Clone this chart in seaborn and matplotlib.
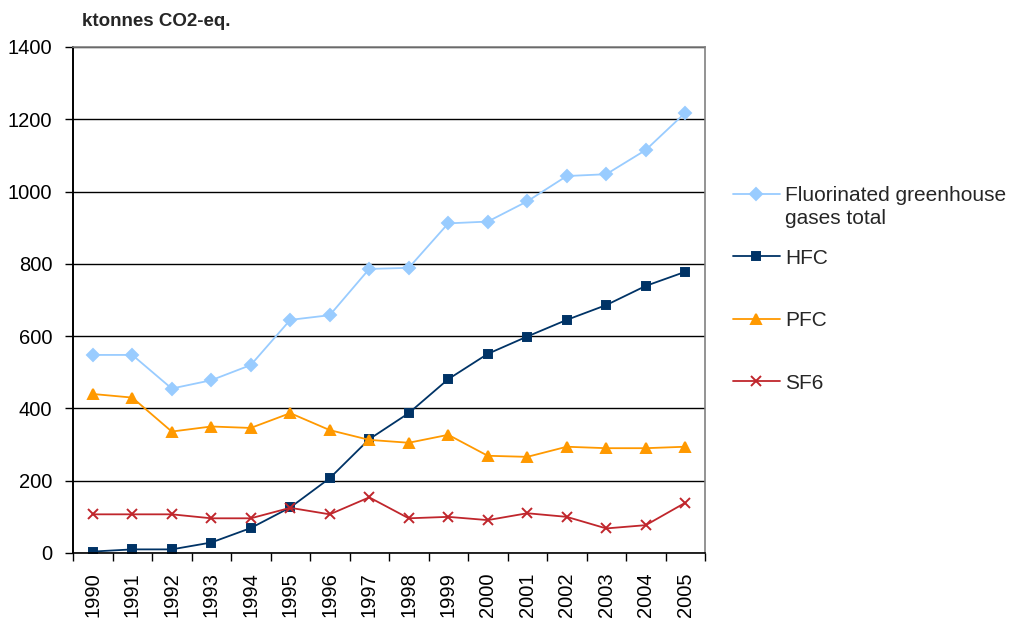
import seaborn as sns
import matplotlib.pyplot as plt
import numpy as np
import pandas as pd

# Data (ktonnes CO2-eq.)
years = list(range(1990, 2006))
total = [548, 548, 455, 478, 520, 645, 658, 786, 789, 912, 917, 973, 1043, 1048, 1115, 1218]
hfc = [4, 10, 10, 29, 69, 126, 207, 315, 387, 481, 551, 599, 645, 686, 739, 778]
pfc = [440, 430, 336, 350, 346, 387, 340, 313, 305, 327, 269, 266, 294, 290, 290, 294]
sf6 = [107, 107, 107, 96, 96, 125, 107, 154, 96, 100, 91, 110, 100, 68, 77, 139]
series_names = ["Fluorinated greenhouse", "HFC", "PFC", "SF6"]
y_ticks = [0, 200, 400, 600, 800, 1000, 1200, 1400]

df = pd.DataFrame({"year": years, series_names[0]: total, "HFC": hfc,
                   "PFC": pfc, "SF6": sf6})
df = df.melt(id_vars="year", var_name="series", value_name="value")

sns.set_theme(style="white")
plt.rcParams['font.family'] = ["Liberation Sans", "DejaVu Sans"]

colors = ["#99CCFF", "#003366", "#FF9900", "#C0262C"]
markers = ["D", "s", "^", "x"]
msizes = [8, 7, 10, 9]

fig = plt.figure(figsize=(10.16, 6.21), dpi=100)
ax = fig.add_axes([73 / 1016, 68 / 621, 632 / 1016, 506 / 621])

for name, c, m, ms in zip(series_names, colors, markers, msizes):
    sub = df[df.series == name]
    sns.lineplot(data=sub, x="year", y="value", ax=ax, color=c, marker=m,
                 markersize=ms, markeredgecolor=c, markeredgewidth=1.4,
                 linewidth=1.3, label=name)

# Axes
ax.set_xlim(1989.5, 2005.5)
ax.set_ylim(0, 1400)
ax.set_yticks(y_ticks)
ax.set_xticks(years)
ax.set_xticklabels([str(y) for y in years], rotation=90)
ax.set_xticks(np.arange(1989.5, 2006, 1), minor=True)
ax.tick_params(axis='x', which='major', length=0, pad=14, labelsize=14.5, colors='black')
ax.tick_params(axis='x', which='minor', length=6, width=1, color='black', direction='out', bottom=True)
ax.tick_params(axis='y', which='major', length=6, width=1, color='black', direction='out',
               left=True, pad=9, labelsize=14.5, labelcolor='black')
ax.set_xlabel('')
ax.set_ylabel('')
ax.yaxis.grid(True, color='black', linewidth=1)
ax.set_axisbelow(True)

ax.spines['left'].set_color('black')
ax.spines['left'].set_linewidth(1.4)
ax.spines['bottom'].set_color('black')
ax.spines['bottom'].set_linewidth(1.2)
ax.spines['top'].set_color('#808080')
ax.spines['right'].set_color('#808080')
ax.spines['top'].set_linewidth(1.2)
ax.spines['right'].set_linewidth(1.2)

# Title of y unit
fig.text(82 / 1016, 1 - 22 / 621, "ktonnes CO2-eq.", fontsize=13.5,
         fontweight='bold', va='center', ha='left')

# Legend
handles, labels = ax.get_legend_handles_labels()
for h in handles:
    h.set_markersize(h.get_markersize() * 0.75)
leg = ax.legend(handles, labels, loc='upper left',
                bbox_to_anchor=(733 / 1016, 1 - 186 / 621),
                bbox_transform=fig.transFigure, frameon=False, fontsize=15,
                handlelength=2.25, handletextpad=0.24, labelspacing=2.09,
                borderpad=0, borderaxespad=0)
fig.text(785 / 1016, 1 - 219 / 621, "gases total", fontsize=15,
         va='center', ha='left')

fig.savefig('out.png', dpi=100)
